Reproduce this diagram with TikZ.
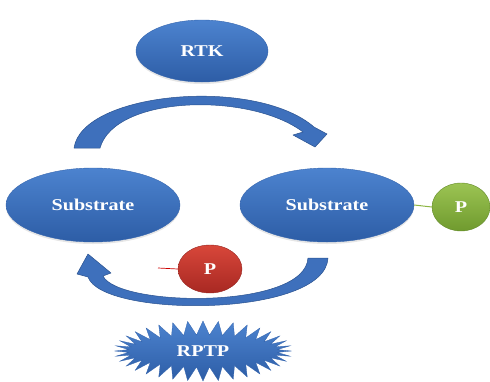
\documentclass[tikz,border=0pt]{standalone}
\usepackage{fontspec}
\setmainfont{Liberation Serif}[FakeStretch=1.22]
\usetikzlibrary{shapes.geometric,shapes.symbols,shadows}
\definecolor{bluetop}{HTML}{4C83CF}
\definecolor{bluebot}{HTML}{2D5DA6}
\definecolor{blueedge}{HTML}{3565AE}
\definecolor{arrowfill}{HTML}{3E70BC}
\definecolor{arrowedge}{HTML}{2A528F}
\definecolor{greentop}{HTML}{9CC453}
\definecolor{greenbot}{HTML}{6F9A2E}
\definecolor{greenline}{HTML}{8DB543}
\definecolor{redtop}{HTML}{D8473A}
\definecolor{redbot}{HTML}{A82822}
\tikzset{
  lbl/.style={font=\fontsize{16.5}{18}\selectfont\bfseries, text=white},
  blueell/.style={ellipse, lbl, top color=bluetop, bottom color=bluebot, draw=blueedge, line width=0.4pt, inner sep=0pt,
    drop shadow={opacity=0.2, shadow xshift=0pt, shadow yshift=-2pt}},
  pgreen/.style={ellipse, lbl, top color=greentop, bottom color=greenbot, draw=greenbot!90!black, line width=0.4pt, inner sep=0pt, minimum width=58pt, minimum height=48pt},
  pred/.style={ellipse, lbl, top color=redtop, bottom color=redbot, draw=redbot!90!black, line width=0.4pt, inner sep=0pt, minimum width=64pt, minimum height=48pt},
  blockarrow/.style={fill=arrowfill, draw=arrowedge, line width=0.5pt, line join=round}
}
\begin{document}
\begin{tikzpicture}[x=1pt,y=-1pt]
\useasboundingbox (0,0) rectangle (490,381);
\node[blueell, minimum width=132pt, minimum height=62pt] (rtk) at (202,51) {RTK};
\node[blueell, minimum width=174pt, minimum height=74pt] (s1) at (93,205) {Substrate};
\node[blueell, minimum width=174pt, minimum height=74pt] (s2) at (327,205) {Substrate};
\node[pgreen] (pg) at (461,207) {P};
\draw[greenline, line width=1pt] (s2.east) -- (pg.west);
\node[pred] (pr) at (210,269) {P};
\coordinate (redend) at (158,268);
\draw[red!80!black, line width=0.7pt] (pr.west) -- (redend);
% upper curved arrow
\draw[blockarrow] (74,148) .. controls (82,92) and (255,76) .. (314,127)
  -- (327,134) -- (315,147) -- (293,135) -- (303,132)
  .. controls (250,92) and (115,95) .. (100,148) -- cycle;
% lower curved arrow
\draw[blockarrow] (328,258) .. controls (325,318) and (102,318) .. (88,277)
  -- (77,274) -- (88,254) -- (111,273) -- (103,276)
  .. controls (118,307) and (305,310) .. (308,258) -- cycle;
% RPTP starburst
\node[starburst, starburst points=36, starburst point height=14pt, random starburst=0,
  lbl, top color=bluetop, bottom color=bluebot, draw=blueedge, line width=0.3pt,
  minimum width=177pt, minimum height=60pt, inner sep=0pt] (rptp) at (203,351) {RPTP};
\end{tikzpicture}
\end{document}
